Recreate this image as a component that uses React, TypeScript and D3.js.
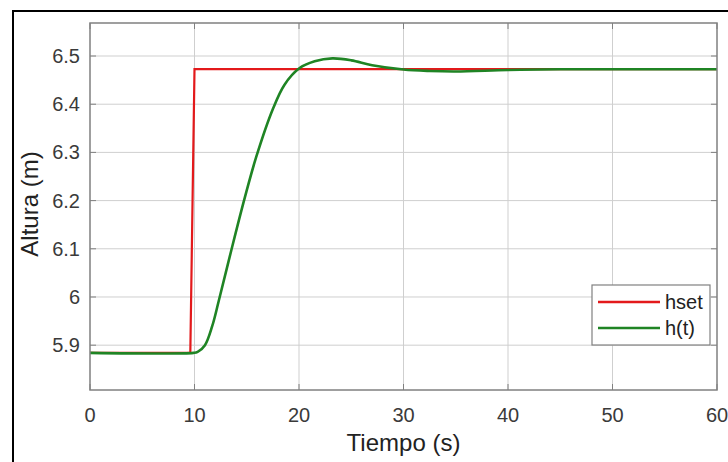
import React from 'react';
import * as d3 from 'd3';

// setpoint (hset) and tank level response h(t)
const setTime = [0, 9.6, 10, 60];
const setValue = [5.884, 5.884, 6.473, 6.473];

const hTime = [0, 9.9, 10.3, 11, 11.7, 12.3, 13.5, 14.8, 15.9, 17.5, 18.6, 20, 21.5, 23.2, 25, 27, 30, 32.5, 35, 40, 45, 50, 60];
const hValue = [5.884, 5.884, 5.886, 5.9, 5.94, 5.99, 6.095, 6.205, 6.29, 6.39, 6.44, 6.474, 6.489, 6.495, 6.491, 6.481, 6.472, 6.469, 6.468, 6.471, 6.4725, 6.4725, 6.4725];

const xTicks = [0, 10, 20, 30, 40, 50, 60];
const yTicks = [5.9, 6, 6.1, 6.2, 6.3, 6.4, 6.5];

const legendLabels = ['hset', 'h(t)'];
const seriesColors = ['#e3191b', '#1f8424'];

const W = 728;
const H = 462;
const left = 90;
const right = 717;
const top = 23;
const bottom = 390;
const font = '"Liberation Sans", Arial, Helvetica, sans-serif';

export default function App() {
  const x = d3.scaleLinear().domain([0, 60]).range([left, right]);
  const y = d3.scaleLinear().domain([5.807, 6.5685]).range([bottom, top]);

  const setLine = d3.line<number>()
    .x((_, i) => x(setTime[i]))
    .y((d) => y(d));

  const hLine = d3.line<number>()
    .x((_, i) => x(hTime[i]))
    .y((d) => y(d))
    .curve(d3.curveCatmullRom.alpha(0.5));

  return (
    <svg width={W} height={H} style={{ position: 'absolute', left: 0, top: 0, background: '#fff' }}>
      {/* outer frame */}
      <rect x={13} y={11} width={730} height={470} fill="#fff" stroke="#000" strokeWidth={2} />

      {/* grid */}
      {xTicks.slice(1, -1).map((t) => (
        <line key={'gx' + t} x1={x(t)} x2={x(t)} y1={top} y2={bottom} stroke="#cfcfcf" strokeWidth={1} />
      ))}
      {yTicks.map((t) => (
        <line key={'gy' + t} x1={left} x2={right} y1={y(t)} y2={y(t)} stroke="#cfcfcf" strokeWidth={1} />
      ))}

      {/* tick marks */}
      {xTicks.map((t) => (
        <g key={'tx' + t} stroke="#808080" strokeWidth={1}>
          <line x1={x(t)} x2={x(t)} y1={bottom} y2={bottom - 6} />
          <line x1={x(t)} x2={x(t)} y1={top} y2={top + 6} />
        </g>
      ))}
      {yTicks.map((t) => (
        <g key={'ty' + t} stroke="#808080" strokeWidth={1}>
          <line x1={left} x2={left + 6} y1={y(t)} y2={y(t)} />
          <line x1={right} x2={right - 6} y1={y(t)} y2={y(t)} />
        </g>
      ))}

      {/* series */}
      <path d={setLine(setValue) ?? ''} fill="none" stroke={seriesColors[0]} strokeWidth={2.2} />
      <path d={hLine(hValue) ?? ''} fill="none" stroke={seriesColors[1]} strokeWidth={2.6} />

      {/* axes box */}
      <rect x={left} y={top} width={right - left} height={bottom - top} fill="none" stroke="#808080" strokeWidth={1.5} />

      {/* tick labels */}
      {xTicks.map((t) => (
        <text key={'lx' + t} x={x(t)} y={422} textAnchor="middle" fontFamily={font} fontSize={20} fill="#3a3a3a">
          {t}
        </text>
      ))}
      {yTicks.map((t) => (
        <text key={'ly' + t} x={80} y={y(t)} dy="0.35em" textAnchor="end" fontFamily={font} fontSize={20} fill="#3a3a3a">
          {String(t)}
        </text>
      ))}

      {/* axis titles */}
      <text x={(left + right) / 2} y={451} textAnchor="middle" fontFamily={font} fontSize={24} fill="#222">
        Tiempo (s)
      </text>
      <text
        transform={`translate(38, 204) rotate(-90)`}
        textAnchor="middle"
        fontFamily={font}
        fontSize={24}
        fill="#222"
      >
        Altura (m)
      </text>

      {/* legend */}
      <rect x={592} y={285} width={118} height={60} fill="#fff" stroke="#808080" strokeWidth={1.2} />
      {legendLabels.map((label, i) => (
        <g key={label}>
          <line x1={598} x2={660} y1={302 + i * 26} y2={302 + i * 26} stroke={seriesColors[i]} strokeWidth={2.4} />
          <text x={665} y={302 + i * 26} dy="0.35em" fontFamily={font} fontSize={20} fill="#222">
            {label}
          </text>
        </g>
      ))}
    </svg>
  );
}
